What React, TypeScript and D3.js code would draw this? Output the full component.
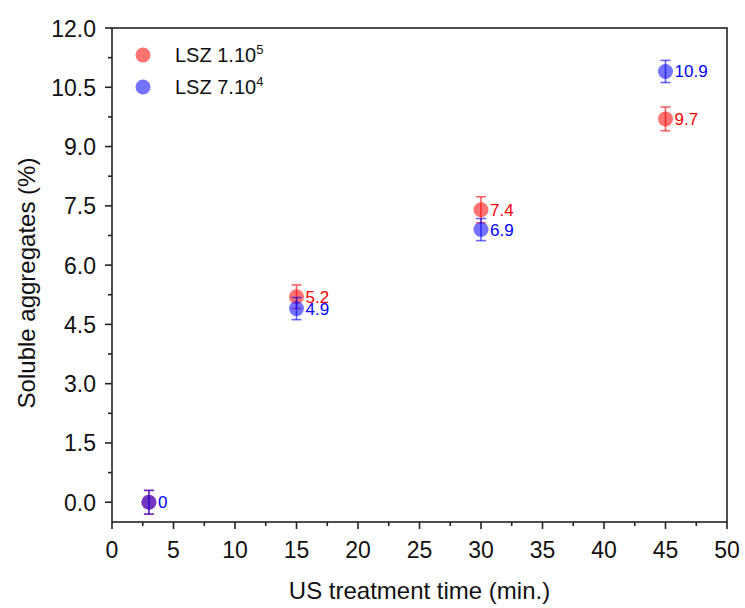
import React from "react";
import * as d3 from "d3";

const times = [3, 15, 30, 45];
const lsz1e5 = [0, 5.2, 7.4, 9.7];
const lsz1e5Err = [0.3, 0.3, 0.33, 0.3];
const lsz7e4 = [0, 4.9, 6.9, 10.9];
const lsz7e4Err = [0.3, 0.28, 0.28, 0.28];
const xTicks = [0, 5, 10, 15, 20, 25, 30, 35, 40, 45, 50];
const yTicks = [0, 1.5, 3, 4.5, 6, 7.5, 9, 10.5, 12];

const W = 745;
const H = 608;
const M = { left: 112, right: 727, top: 28, bottom: 522 };

export default function App() {
  const x = d3.scaleLinear().domain([0, 50]).range([M.left, M.right]);
  const y = d3.scaleLinear().domain([-0.5, 12]).range([M.bottom, M.top]);
  const font = "'Liberation Sans', Arial, sans-serif";

  const series = [
    { vals: lsz1e5, err: lsz1e5Err, fill: "rgba(255,0,0,0.55)", stroke: "rgba(255,0,0,0.6)", text: "#ff0000", showZero: false },
    { vals: lsz7e4, err: lsz7e4Err, fill: "rgba(0,0,255,0.55)", stroke: "rgba(0,0,255,0.6)", text: "#0000ff", showZero: true },
  ];

  const xMinor = d3.range(2.5, 50, 5);
  const yMinor = d3.range(0.75, 12, 1.5);

  return (
    <svg width={W} height={H} style={{ position: "absolute", left: 0, top: 0, background: "#fff" }} fontFamily={font}>
      {/* frame */}
      <rect x={M.left} y={M.top} width={M.right - M.left} height={M.bottom - M.top} fill="none" stroke="#222" strokeWidth={1.6} />
      {/* x ticks */}
      {xTicks.map((t) => (
        <g key={"xt" + t}>
          <line x1={x(t)} x2={x(t)} y1={M.bottom} y2={M.bottom + 7} stroke="#222" strokeWidth={1.6} />
          <text x={x(t)} y={558} fontSize={23} textAnchor="middle" fill="#111">{t}</text>
        </g>
      ))}
      {xMinor.map((t) => (
        <line key={"xm" + t} x1={x(t)} x2={x(t)} y1={M.bottom} y2={M.bottom + 4} stroke="#222" strokeWidth={1.6} />
      ))}
      {/* y ticks */}
      {yTicks.map((t) => (
        <g key={"yt" + t}>
          <line x1={M.left - 7} x2={M.left} y1={y(t)} y2={y(t)} stroke="#222" strokeWidth={1.6} />
          <text x={M.left - 16} y={y(t) + 8.5} fontSize={23} textAnchor="end" fill="#111">{t.toFixed(1)}</text>
        </g>
      ))}
      {yMinor.map((t) => (
        <line key={"ym" + t} x1={M.left - 4} x2={M.left} y1={y(t)} y2={y(t)} stroke="#222" strokeWidth={1.6} />
      ))}
      {/* axis titles */}
      <text x={(M.left + M.right) / 2} y={599} fontSize={24} textAnchor="middle" fill="#111">US treatment time (min.)</text>
      <text transform={`translate(35,283) rotate(-90)`} fontSize={24} textAnchor="middle" fill="#111">Soluble aggregates (%)</text>

      {/* data */}
      {series.map((s, si) => (
        <g key={"s" + si}>
          {times.map((t, i) => {
            const cx = x(t);
            const cy = y(s.vals[i]);
            const top = y(s.vals[i] + s.err[i]);
            const bot = y(s.vals[i] - s.err[i]);
            return (
              <g key={i}>
                <line x1={cx} x2={cx} y1={top} y2={bot} stroke={s.stroke} strokeWidth={1.6} />
                <line x1={cx - 5} x2={cx + 5} y1={top} y2={top} stroke={s.stroke} strokeWidth={1.6} />
                <line x1={cx - 5} x2={cx + 5} y1={bot} y2={bot} stroke={s.stroke} strokeWidth={1.6} />
                <circle cx={cx} cy={cy} r={7.5} fill={s.fill} />
              </g>
            );
          })}
        </g>
      ))}
      {/* value labels */}
      {series.map((s, si) =>
        times.map((t, i) =>
          s.vals[i] === 0 && !s.showZero ? null : (
            <text key={`l${si}-${i}`} x={x(t) + 9} y={y(s.vals[i]) + 6} fontSize={17} fill={s.text}>
              {s.vals[i] === 0 ? "0" : s.vals[i].toFixed(1)}
            </text>
          )
        )
      )}

      {/* legend */}
      <circle cx={143} cy={55} r={7.5} fill="rgba(255,0,0,0.55)" />
      <text x={175} y={62} fontSize={20} fill="#111">LSZ 1.10<tspan dy={-8} fontSize={13}>5</tspan></text>
      <circle cx={143} cy={87} r={7.5} fill="rgba(0,0,255,0.55)" />
      <text x={175} y={94} fontSize={20} fill="#111">LSZ 7.10<tspan dy={-8} fontSize={13}>4</tspan></text>
    </svg>
  );
}
